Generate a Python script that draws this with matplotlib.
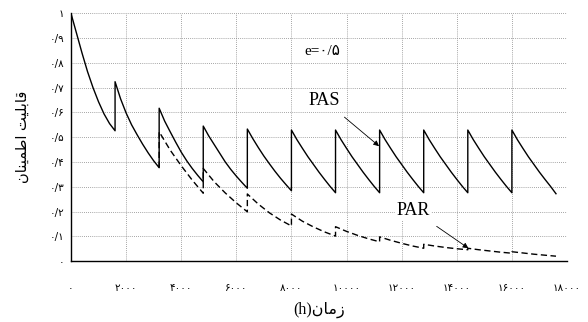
import matplotlib
matplotlib.use("Agg")
import matplotlib.pyplot as plt

# maintenance every 1600 h; each row is one saw tooth
SEG_START = [0, 1600, 3200, 4800, 6400, 8000, 9600, 11200, 12800, 14400, 16000]
PAS_AGE = [0, 200, 400, 600, 800, 1000, 1200, 1400, 1600]
PAS_SEG_R = [
    [1.0, 0.92, 0.84, 0.765, 0.70, 0.643, 0.594, 0.555, 0.526],
    [0.724, 0.655, 0.598, 0.55, 0.51, 0.472, 0.437, 0.405, 0.377],
    [0.617, 0.565, 0.522, 0.48, 0.44, 0.405, 0.374, 0.346, 0.32],
    [0.545, 0.505, 0.47, 0.435, 0.40, 0.37, 0.343, 0.318, 0.294],
    [0.533, 0.494, 0.458, 0.424, 0.393, 0.363, 0.335, 0.309, 0.284],
    [0.529, 0.49, 0.455, 0.421, 0.39, 0.359, 0.33, 0.302, 0.276],
    [0.529, 0.49, 0.455, 0.421, 0.39, 0.359, 0.33, 0.302, 0.276],
    [0.529, 0.49, 0.455, 0.421, 0.39, 0.359, 0.33, 0.302, 0.276],
    [0.529, 0.49, 0.455, 0.421, 0.39, 0.359, 0.33, 0.302, 0.276],
    [0.529, 0.49, 0.455, 0.421, 0.39, 0.359, 0.33, 0.302, 0.276],
    [0.529, 0.49, 0.455, 0.421, 0.39, 0.359, 0.33, 0.302, 0.272],
]

# PAR follows PAS up to 3200 h, then splits off (dashed)
PAR_START = [3200, 4800, 6400, 8000, 9600, 11200, 12800, 14400, 16000]
PAR_AGE = [0, 400, 800, 1200, 1600]
PAR_SEG_R = [
    [0.522, 0.448, 0.385, 0.327, 0.274],
    [0.374, 0.32, 0.275, 0.235, 0.199],
    [0.271, 0.23, 0.195, 0.166, 0.142],
    [0.19, 0.161, 0.138, 0.118, 0.101],
    [0.139, 0.12, 0.104, 0.09, 0.078],
    [0.098, 0.084, 0.072, 0.061, 0.052],
    [0.068, 0.061, 0.055, 0.05, 0.046],
    [0.052, 0.046, 0.041, 0.036, 0.032],
    [0.038, 0.033, 0.028, 0.024, 0.02],
]

X_TICKS = [0, 2000, 4000, 6000, 8000, 10000, 12000, 14000, 16000, 18000]
X_TICK_LABELS = ["۰", "۲۰۰۰", "۴۰۰۰", "۶۰۰۰", "۸۰۰۰", "۱۰۰۰۰",
                 "۱۲۰۰۰", "۱۴۰۰۰", "۱۶۰۰۰", "۱۸۰۰۰"]
Y_TICKS = [0, 0.1, 0.2, 0.3, 0.4, 0.5, 0.6, 0.7, 0.8, 0.9, 1.0]
Y_TICK_LABELS = ["۰", "۰/۱", "۰/۲", "۰/۳", "۰/۴", "۰/۵",
                 "۰/۶", "۰/۷", "۰/۸", "۰/۹", "۱"]

# matplotlib does no Arabic shaping, so labels are written in
# presentation forms, in visual (left-to-right) order
Y_LABEL = "ﻥﺎﻨﻴﻤﻃﺍ ﺖﻴﻠﺑﺎﻗ"   # قابلیت اطمینان
X_LABEL = "(h)ﻥﺎﻣﺯ"            # زمان(h)
E_TEXT = "e=۰/۵"

SERIF = ["Liberation Serif", "DejaVu Sans"]


def sawtooth(starts, ages, rows):
    t, r = [], []
    for s, row in zip(starts, rows):
        t += [s + a for a in ages]
        r += row
    return t, r


pas_t, pas_r = sawtooth(SEG_START, PAS_AGE, PAS_SEG_R)
par_t, par_r = sawtooth(PAR_START, PAR_AGE, PAR_SEG_R)
# hidden jump under the PAS line at 3200 h
par_t = [PAR_START[0]] + par_t
par_r = [PAS_SEG_R[1][-1]] + par_r

fig = plt.figure(figsize=(5.88, 3.22), dpi=100)
ax = fig.add_axes([0.1207, 0.189, 0.8436, 0.7697])

ax.plot(par_t, par_r, color="black", lw=1.0, ls=(0, (4.5, 2.5)), zorder=2)
ax.plot(pas_t, pas_r, color="black", lw=1.0, zorder=3)

ax.set_xlim(0, 18000)
ax.set_ylim(0, 1)
ax.set_xticks(X_TICKS)
ax.set_xticklabels(X_TICK_LABELS, fontsize=7.5, family="DejaVu Sans")
ax.set_yticks(Y_TICKS)
ax.set_yticklabels(Y_TICK_LABELS, fontsize=7.5, family="DejaVu Sans")
ax.tick_params(axis="x", length=0, pad=16)
ax.tick_params(axis="y", length=0, pad=5)

ax.grid(True, ls=(0, (1, 1.5)), color="#888888", lw=0.6)
ax.spines["top"].set_visible(False)
ax.spines["right"].set_visible(False)
ax.spines["left"].set_linewidth(1.0)
ax.spines["bottom"].set_linewidth(1.0)

ax.set_xlabel(X_LABEL, family=SERIF, fontsize=11.5, labelpad=6)
ax.set_ylabel(Y_LABEL, family="DejaVu Sans", fontsize=10.5, labelpad=14)

ax.text(9110, 0.844, E_TEXT, family=SERIF, fontsize=11,
        ha="center", va="center",
        bbox=dict(facecolor="white", edgecolor="none", pad=1))

ax.annotate("PAS", xy=(11180, 0.464), xytext=(9184, 0.65),
            family=SERIF, fontsize=13, ha="center", va="center",
            bbox=dict(facecolor="white", edgecolor="none", pad=1),
            arrowprops=dict(arrowstyle="-|>", color="black", lw=0.6,
                            mutation_scale=8, shrinkA=8, shrinkB=0))
ax.annotate("PAR", xy=(14422, 0.052), xytext=(12415, 0.206),
            family=SERIF, fontsize=13, ha="center", va="center",
            bbox=dict(facecolor="white", edgecolor="none", pad=1),
            arrowprops=dict(arrowstyle="-|>", color="black", lw=0.6,
                            mutation_scale=8, shrinkA=8, shrinkB=0))

fig.savefig("out.png", dpi=100)
